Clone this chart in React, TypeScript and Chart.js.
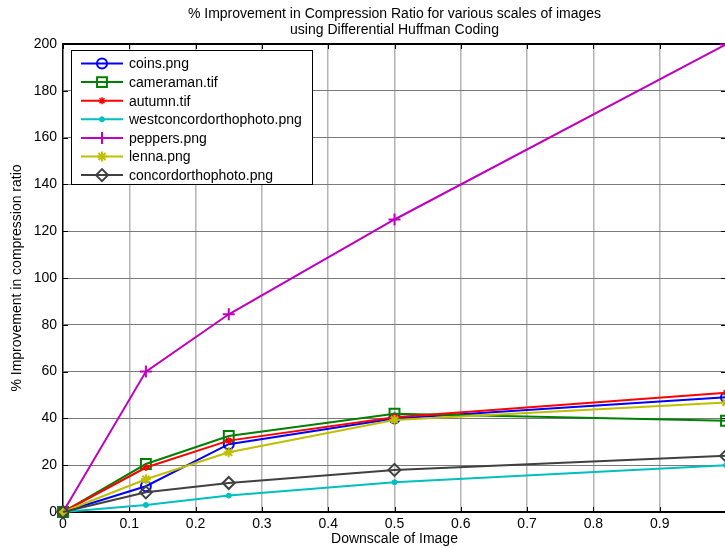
import React, { useEffect, useRef } from 'react';
import { Chart, registerables } from 'chart.js';
import { drawPoint } from 'chart.js/helpers';

Chart.register(...registerables);

const titleLines = [
  '% Improvement in Compression Ratio for various scales of images',
  'using Differential Huffman Coding',
];
const xAxisTitle = 'Downscale of Image';
const yAxisTitle = '% Improvement in compression ratio';

const xValues = [0, 0.125, 0.25, 0.5, 1];
const xTickLabels = ['0', '0.1', '0.2', '0.3', '0.4', '0.5', '0.6', '0.7', '0.8', '0.9', ''];

const seriesNames = [
  'coins.png',
  'cameraman.tif',
  'autumn.tif',
  'westconcordorthophoto.png',
  'peppers.png',
  'lenna.png',
  'concordorthophoto.png',
];
const coins = [0, 11, 29, 40, 49];
const cameraman = [0, 20.5, 32.5, 42, 39];
const autumn = [0, 19, 30.5, 40.5, 51];
const westconcord = [0, 3, 7, 12.7, 20];
const peppers = [0, 60, 84.5, 125, 199.8];
const lenna = [0, 14, 25.5, 39.3, 46.8];
const concord = [0, 8.4, 12.4, 18, 24];

const seriesValues = [coins, cameraman, autumn, westconcord, peppers, lenna, concord];
const seriesColors = ['#0000ff', '#008000', '#ff0000', '#00bfbf', '#bf00bf', '#bfbf00', '#404040'];
const seriesMarkers = [
  { style: 'circle', radius: 5, width: 2, fill: false },
  { style: 'rect', radius: 7, width: 2, fill: false },
  { style: 'star', radius: 3.5, width: 1.5, fill: false },
  { style: 'circle', radius: 2.5, width: 1, fill: true },
  { style: 'cross', radius: 6, width: 2, fill: false },
  { style: 'star', radius: 5, width: 2, fill: false },
  { style: 'rectRot', radius: 6, width: 2, fill: false },
];

const FONT = 'Arial, "Liberation Sans", Helvetica, sans-serif';
const CANVAS_W = 735;

const axesPlugin = {
  id: 'matlabAxes',
  beforeDatasetsDraw(chart: any) {
    const { ctx, chartArea } = chart;
    const xs = chart.scales.x;
    const ys = chart.scales.y;
    ctx.save();
    ctx.strokeStyle = '#000';
    ctx.lineWidth = 1;
    const tl = 5;
    xs.ticks.forEach((t: any) => {
      const px = Math.round(xs.getPixelForValue(t.value)) + 0.5;
      ctx.beginPath();
      ctx.moveTo(px, chartArea.bottom);
      ctx.lineTo(px, chartArea.bottom - tl);
      ctx.moveTo(px, chartArea.top);
      ctx.lineTo(px, chartArea.top + tl);
      ctx.stroke();
    });
    ys.ticks.forEach((t: any) => {
      const py = Math.round(ys.getPixelForValue(t.value)) + 0.5;
      ctx.beginPath();
      ctx.moveTo(chartArea.left, py);
      ctx.lineTo(chartArea.left + tl, py);
      ctx.moveTo(chartArea.right, py);
      ctx.lineTo(chartArea.right - tl, py);
      ctx.stroke();
    });
    ctx.lineWidth = 2;
    ctx.beginPath();
    ctx.moveTo(chartArea.left, chartArea.top);
    ctx.lineTo(chartArea.right, chartArea.top);
    ctx.lineTo(chartArea.right, chartArea.bottom);
    ctx.stroke();
    ctx.restore();
  },
  afterDraw(chart: any) {
    const { ctx } = chart;
    const boxX = 71;
    const boxY = 50;
    const boxW = 241;
    const boxH = 134;
    ctx.save();
    ctx.fillStyle = '#ffffff';
    ctx.fillRect(boxX, boxY, boxW, boxH);
    ctx.strokeStyle = '#000';
    ctx.lineWidth = 1;
    ctx.strokeRect(boxX + 0.5, boxY + 0.5, boxW, boxH);
    const rowH = 18.6;
    const firstY = 63.5;
    ctx.font = `14px ${FONT}`;
    ctx.textBaseline = 'middle';
    ctx.textAlign = 'left';
    chart.data.datasets.forEach((ds: any, i: number) => {
      const y = firstY + i * rowH;
      const m = seriesMarkers[i];
      ctx.strokeStyle = ds.borderColor;
      ctx.lineWidth = 2;
      ctx.beginPath();
      ctx.moveTo(81, y);
      ctx.lineTo(123, y);
      ctx.stroke();
      ctx.lineWidth = m.width;
      ctx.fillStyle = m.fill ? ds.borderColor : 'rgba(0,0,0,0)';
      drawPoint(ctx, { pointStyle: m.style, radius: m.radius, rotation: 0, borderWidth: m.width } as any, 102, y);
      ctx.fillStyle = '#000';
      ctx.fillText(ds.label, 129, y + 1);
    });
    ctx.restore();
  },
};

export default function App() {
  const canvasRef = useRef<HTMLCanvasElement | null>(null);

  useEffect(() => {
    if (!canvasRef.current) return;
    Chart.defaults.font.family = FONT;
    Chart.defaults.font.size = 14;
    Chart.defaults.color = '#000';

    const datasets = seriesNames.map((name, i) => {
      const m = seriesMarkers[i];
      return {
        label: name,
        data: xValues.map((x, j) => ({ x, y: seriesValues[i][j] })),
        borderColor: seriesColors[i],
        backgroundColor: seriesColors[i],
        borderWidth: 2,
        pointStyle: m.style,
        pointRadius: m.radius,
        pointBorderWidth: m.width,
        pointBorderColor: seriesColors[i],
        pointBackgroundColor: m.fill ? seriesColors[i] : 'rgba(0,0,0,0)',
        tension: 0,
        clip: false,
        order: -i,
      };
    });

    const chart = new Chart(canvasRef.current, {
      type: 'line',
      data: { datasets } as any,
      options: {
        animation: false,
        responsive: false,
        maintainAspectRatio: false,
        layout: { padding: { left: 0, right: 2, top: 0, bottom: 0 } },
        plugins: {
          legend: { display: false },
          tooltip: { enabled: false },
          title: {
            display: true,
            fullSize: false,
            text: titleLines,
            color: '#000',
            font: { size: 14, weight: 'normal', family: FONT, lineHeight: '16px' } as any,
            padding: { top: 6, bottom: 6 },
          },
        },
        scales: {
          x: {
            type: 'linear',
            min: 0,
            max: 1,
            afterFit: (s: any) => {
              s.height = 36;
            },
            ticks: {
              stepSize: 0.1,
              autoSkip: false,
              maxRotation: 0,
              padding: 4,
              color: '#000',
              font: { size: 14 },
              callback: (_v: any, i: number) => xTickLabels[i],
            },
            grid: {
              drawTicks: false,
              lineWidth: 1.5,
              color: (c: any) =>
                c.index === 0 || c.index === xTickLabels.length - 1 ? 'rgba(0,0,0,0)' : '#b4b4b4',
            },
            border: { display: true, color: '#000', width: 2 },
            title: {
              display: true,
              text: xAxisTitle,
              color: '#000',
              font: { size: 14 },
              padding: { top: 0, bottom: 0 },
            },
          },
          y: {
            type: 'linear',
            min: 0,
            max: 200,
            afterFit: (s: any) => {
              s.width = 63;
            },
            ticks: {
              stepSize: 20,
              padding: 6,
              color: '#000',
              font: { size: 14 },
            },
            grid: {
              drawTicks: false,
              lineWidth: 1,
              color: (c: any) => (c.index === 0 || c.tick?.value === 200 ? 'rgba(0,0,0,0)' : '#7a7a7a'),
            },
            border: { display: true, color: '#000', width: 1.5 },
            title: {
              display: true,
              text: yAxisTitle,
              color: '#000',
              font: { size: 14 },
              padding: { top: 9, bottom: 0 },
            },
          },
        },
      },
      plugins: [axesPlugin],
    } as any);

    return () => {
      chart.destroy();
    };
  }, []);

  return (
    <div
      style={{
        position: 'absolute',
        left: 0,
        top: 0,
        width: 725,
        height: 548,
        overflow: 'hidden',
        background: '#fff',
      }}
    >
      <canvas
        ref={canvasRef}
        width={CANVAS_W}
        height={548}
        style={{ width: CANVAS_W, height: 548, display: 'block' }}
      />
    </div>
  );
}
